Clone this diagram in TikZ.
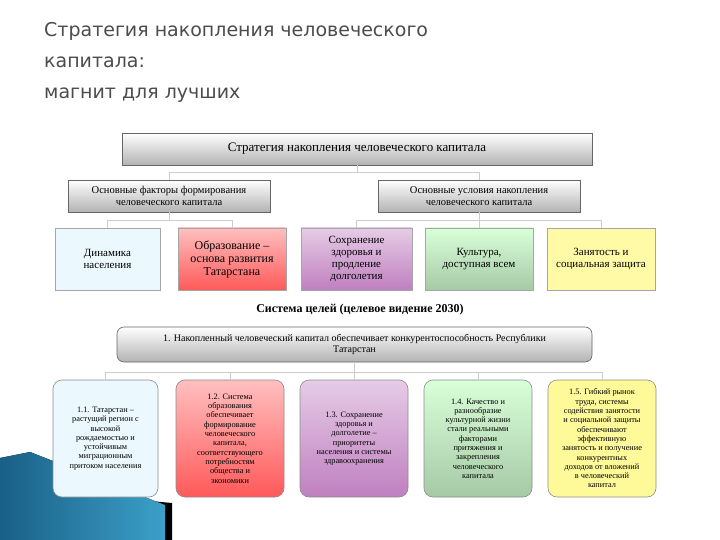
\documentclass[tikz,border=0pt]{standalone}
\usepackage{fontspec}
\setmainfont{Liberation Serif}
\newfontfamily\titlefont{DejaVu Sans}
\definecolor{decoA}{RGB}{25,95,135}
\definecolor{decoB}{RGB}{60,160,200}
\begin{document}
\begin{tikzpicture}[x=1pt,y=-1pt,
 con/.style={draw=black!20,line width=0.8pt},
 hbox/.style={draw=black!60,line width=0.6pt,top color=white,bottom color=black!30,align=center,inner sep=1pt},
 cbox/.style={draw=black!35,line width=0.6pt,align=center,font=\fontsize{11}{12}\selectfont,inner sep=2pt},
 gbox/.style={draw=black!45,line width=0.6pt,rounded corners=9pt,align=center,font=\fontsize{8.3}{9.3}\selectfont,inner sep=1pt}]
\useasboundingbox (0,0) rectangle (720,540);
\fill[white] (0,0) rectangle (720,540);
% decoration
\fill[black] (140,500) -- (172,503) -- (172,540) -- (150,540) -- cycle;
\fill[left color=decoA,right color=decoB] (0,458) -- (30,452) -- (165,505) -- (165,540) -- (0,540) -- cycle;
% title
\node[anchor=north west,align=left,text=black!70,font=\titlefont\fontsize{19}{31}\selectfont,inner sep=0] (t) at (44,22) {Стратегия накопления человеческого\\капитала:\\магнит для лучших};
% top
\node[hbox,minimum width=470,minimum height=32,font=\fontsize{13}{14}\selectfont] (top) at (357,149) {Стратегия накопления человеческого капитала};
\node[hbox,minimum width=202,minimum height=32,font=\fontsize{10.5}{11.5}\selectfont] (hl) at (169,196) {Основные факторы формирования\\человеческого капитала};
\node[hbox,minimum width=202,minimum height=32,font=\fontsize{10.5}{11.5}\selectfont] (hr) at (479,196) {Основные условия накопления\\человеческого капитала};
\draw[con] (top.south) -- ++(0,7) coordinate(j1) (hl.north|-j1) -- (hr.north|-j1) (hl.north|-j1) -- (hl.north) (hr.north|-j1) -- (hr.north);
% row
\node[cbox,minimum width=105,minimum height=62,fill=cyan!8] (a1) at (107.5,259) {Динамика\\населения};
\node[cbox,minimum width=108,minimum height=62,top color=red!25,bottom color=red!65,font=\fontsize{12}{13}\selectfont] (a2) at (232,259) {Образование –\\основа развития\\Татарстана};
\node[cbox,minimum width=111,minimum height=62,top color=violet!20,bottom color=violet!50] (a3) at (356.5,259) {Сохранение\\здоровья и\\продление\\долголетия};
\node[cbox,minimum width=108,minimum height=62,top color=green!15!white,bottom color=green!40!black!35!white] (a4) at (479,259) {Культура,\\доступная всем};
\node[cbox,minimum width=108,minimum height=62,fill=yellow!35] (a5) at (601,259) {Занятость и\\социальная защита};
\draw[con] (hl.south) -- ++(0,8) coordinate(j2) (a1.north|-j2) -- (a2.north|-j2) (a1.north|-j2) -- (a1.north) (a2.north|-j2) -- (a2.north);
\draw[con] (hr.south) -- ++(0,8) coordinate(j3) (a3.north|-j3) -- (a5.north|-j3) (a3.north|-j3) -- (a3.north) (a4.north|-j3) -- (a4.north) (a5.north|-j3) -- (a5.north);
\node[font=\bfseries\fontsize{12}{13}\selectfont] (sys) at (360,310) {Система целей (целевое видение 2030)};
\node[hbox,rounded corners=7pt,minimum width=475,minimum height=35,font=\fontsize{10}{11}\selectfont] (g) at (354.5,344.5) {1. Накопленный человеческий капитал обеспечивает конкурентоспособность Республики\\Татарстан};
% bottom
\node[gbox,minimum width=105,minimum height=117,fill=cyan!8] (b1) at (105.5,438.5) {1.1. Татарстан –\\растущий регион с\\высокой\\рождаемостью и\\устойчивым\\миграционным\\притоком населения};
\node[gbox,minimum width=108,minimum height=117,top color=red!25,bottom color=red!65] (b2) at (230,438.5) {1.2. Система\\образования\\обеспечивает\\формирование\\человеческого\\капитала,\\соответствующего\\потребностям\\общества и\\экономики};
\node[gbox,minimum width=108,minimum height=117,top color=violet!20,bottom color=violet!50] (b3) at (354,438.5) {1.3. Сохранение\\здоровья и\\долголетие –\\приоритеты\\населения и системы\\здравоохранения};
\node[gbox,minimum width=108,minimum height=117,top color=green!15!white,bottom color=green!40!black!35!white] (b4) at (478,438.5) {1.4. Качество и\\разнообразие\\культурной жизни\\стали реальными\\факторами\\притяжения и\\закрепления\\человеческого\\капитала};
\node[gbox,minimum width=108,minimum height=117,fill=yellow!40] (b5) at (602,438.5) {1.5. Гибкий рынок\\труда, системы\\содействия занятости\\и социальной защиты\\обеспечивают\\эффективную\\занятость и получение\\конкурентных\\доходов от вложений\\в человеческий\\капитал};
\draw[con] (g.south) -- ++(0,10) coordinate(j4) (b1.north|-j4) -- (b5.north|-j4);
\foreach \b in {b1,b2,b3,b4,b5} \draw[con] (\b.north|-j4) -- (\b.north);
\end{tikzpicture}
\end{document}
